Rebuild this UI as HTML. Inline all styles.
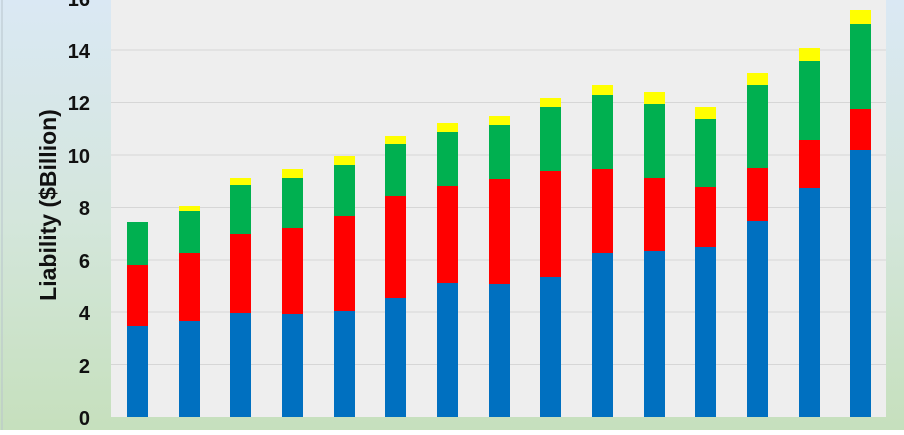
<!DOCTYPE html>
<html><head><meta charset="utf-8"><style>
body{margin:0;width:904px;height:430px;overflow:hidden;}
</style></head><body>
<svg width="904" height="430" xmlns="http://www.w3.org/2000/svg" font-family="Liberation Sans, sans-serif">
<defs><linearGradient id="bg" x1="0" y1="0" x2="0" y2="1">
<stop offset="0" stop-color="#dae8f4"/><stop offset="0.5" stop-color="#d4e6dc"/><stop offset="1" stop-color="#c6e0bd"/></linearGradient></defs>
<rect width="904" height="430" fill="url(#bg)"/>
<line x1="2" y1="0" x2="2" y2="430" stroke="#b8c4cc" stroke-width="1"/>
<rect x="111" y="0" width="775" height="417" fill="#eeeeee"/>
<g stroke="#d6d6d6" stroke-width="1">
<line x1="111" x2="886" y1="50" y2="50"/><line x1="111" x2="886" y1="102.5" y2="102.5"/>
<line x1="111" x2="886" y1="155" y2="155"/><line x1="111" x2="886" y1="207.5" y2="207.5"/>
<line x1="111" x2="886" y1="260" y2="260"/><line x1="111" x2="886" y1="312" y2="312"/>
<line x1="111" x2="886" y1="364.5" y2="364.5"/>
</g>
<g font-size="20" font-weight="bold" fill="#111" text-anchor="end">
<text x="90" y="6">16</text><text x="90" y="58">14</text><text x="90" y="110">12</text>
<text x="90" y="163">10</text><text x="90" y="215">8</text><text x="90" y="268">6</text>
<text x="90" y="320">4</text><text x="90" y="373">2</text><text x="90" y="425">0</text>
</g>
<text transform="translate(56,205) rotate(-90)" text-anchor="middle" font-size="23" font-weight="bold" fill="#111">Liability ($Billion)</text>
<g>
<rect x="127" y="326" width="21" height="91" fill="#0070c0"/><rect x="127" y="265" width="21" height="61" fill="#ff0000"/><rect x="127" y="222" width="21" height="43" fill="#00b050"/>
<rect x="179" y="321" width="21" height="96" fill="#0070c0"/><rect x="179" y="253" width="21" height="68" fill="#ff0000"/><rect x="179" y="211" width="21" height="42" fill="#00b050"/><rect x="179" y="206" width="21" height="5" fill="#ffff00"/>
<rect x="230" y="313" width="21" height="104" fill="#0070c0"/><rect x="230" y="234" width="21" height="79" fill="#ff0000"/><rect x="230" y="185" width="21" height="49" fill="#00b050"/><rect x="230" y="178" width="21" height="7" fill="#ffff00"/>
<rect x="282" y="314" width="21" height="103" fill="#0070c0"/><rect x="282" y="228" width="21" height="86" fill="#ff0000"/><rect x="282" y="178" width="21" height="50" fill="#00b050"/><rect x="282" y="169" width="21" height="9" fill="#ffff00"/>
<rect x="334" y="311" width="21" height="106" fill="#0070c0"/><rect x="334" y="216" width="21" height="95" fill="#ff0000"/><rect x="334" y="165" width="21" height="51" fill="#00b050"/><rect x="334" y="156" width="21" height="9" fill="#ffff00"/>
<rect x="385" y="298" width="21" height="119" fill="#0070c0"/><rect x="385" y="196" width="21" height="102" fill="#ff0000"/><rect x="385" y="144" width="21" height="52" fill="#00b050"/><rect x="385" y="136" width="21" height="8" fill="#ffff00"/>
<rect x="437" y="283" width="21" height="134" fill="#0070c0"/><rect x="437" y="186" width="21" height="97" fill="#ff0000"/><rect x="437" y="132" width="21" height="54" fill="#00b050"/><rect x="437" y="123" width="21" height="9" fill="#ffff00"/>
<rect x="489" y="284" width="21" height="133" fill="#0070c0"/><rect x="489" y="179" width="21" height="105" fill="#ff0000"/><rect x="489" y="125" width="21" height="54" fill="#00b050"/><rect x="489" y="116" width="21" height="9" fill="#ffff00"/>
<rect x="540" y="277" width="21" height="140" fill="#0070c0"/><rect x="540" y="171" width="21" height="106" fill="#ff0000"/><rect x="540" y="107" width="21" height="64" fill="#00b050"/><rect x="540" y="98" width="21" height="9" fill="#ffff00"/>
<rect x="592" y="253" width="21" height="164" fill="#0070c0"/><rect x="592" y="169" width="21" height="84" fill="#ff0000"/><rect x="592" y="95" width="21" height="74" fill="#00b050"/><rect x="592" y="85" width="21" height="10" fill="#ffff00"/>
<rect x="644" y="251" width="21" height="166" fill="#0070c0"/><rect x="644" y="178" width="21" height="73" fill="#ff0000"/><rect x="644" y="104" width="21" height="74" fill="#00b050"/><rect x="644" y="92" width="21" height="12" fill="#ffff00"/>
<rect x="695" y="247" width="21" height="170" fill="#0070c0"/><rect x="695" y="187" width="21" height="60" fill="#ff0000"/><rect x="695" y="119" width="21" height="68" fill="#00b050"/><rect x="695" y="107" width="21" height="12" fill="#ffff00"/>
<rect x="747" y="221" width="21" height="196" fill="#0070c0"/><rect x="747" y="168" width="21" height="53" fill="#ff0000"/><rect x="747" y="85" width="21" height="83" fill="#00b050"/><rect x="747" y="73" width="21" height="12" fill="#ffff00"/>
<rect x="799" y="188" width="21" height="229" fill="#0070c0"/><rect x="799" y="140" width="21" height="48" fill="#ff0000"/><rect x="799" y="61" width="21" height="79" fill="#00b050"/><rect x="799" y="48" width="21" height="13" fill="#ffff00"/>
<rect x="850" y="150" width="21" height="267" fill="#0070c0"/><rect x="850" y="109" width="21" height="41" fill="#ff0000"/><rect x="850" y="24" width="21" height="85" fill="#00b050"/><rect x="850" y="10" width="21" height="14" fill="#ffff00"/>
</g>
</svg>
</body></html>
